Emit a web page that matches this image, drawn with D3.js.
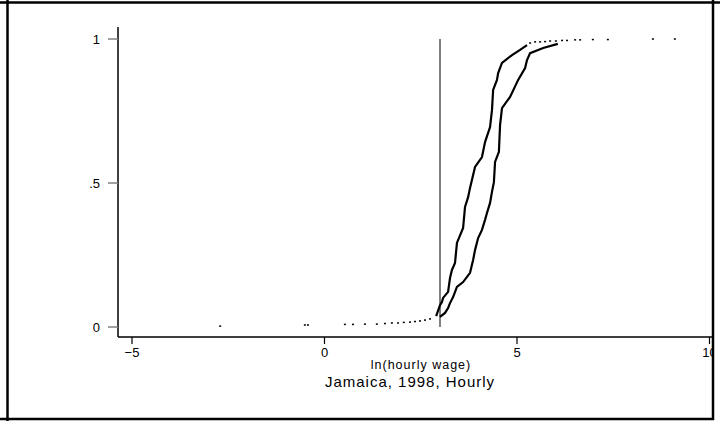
<!DOCTYPE html>
<html><head><meta charset="utf-8">
<script src="https://cdn.jsdelivr.net/npm/d3@7"></script>
<style>html,body{margin:0;padding:0;background:#fff}</style>
</head><body>
<svg id="c" width="720" height="421"></svg>
<script>
// ---- data ----
const xTicks = [-5, 0, 5, 10];
const yTicks = [0, 0.5, 1];
const yTickLabels = ["0", ".5", "1"];
const xTitle = "ln(hourly wage)";
const chartTitle = "Jamaica, 1998, Hourly";
const cutoff = 3;

// left (steeper) ECDF: ln wage, cumulative share
const seriesAx = [2.90,3.00,3.05,3.08,3.21,3.26,3.31,3.39,3.44,3.60,3.65,3.73,3.78,3.91,4.09,4.17,4.30,4.35,4.38,4.48,4.51,4.61,4.87,5.08,5.26];
const seriesAy = [0.038,0.076,0.087,0.101,0.122,0.170,0.198,0.222,0.292,0.344,0.417,0.451,0.483,0.556,0.590,0.642,0.694,0.753,0.823,0.858,0.882,0.917,0.944,0.962,0.979];
// right ECDF
const seriesBx = [3.00,3.13,3.21,3.26,3.34,3.44,3.60,3.78,3.86,3.91,3.99,4.09,4.17,4.22,4.30,4.35,4.40,4.43,4.53,4.56,4.61,4.82,5.03,5.21,5.26,5.34,5.68,6.06];
const seriesBy = [0.035,0.049,0.066,0.083,0.104,0.139,0.156,0.188,0.233,0.267,0.309,0.337,0.372,0.396,0.431,0.469,0.503,0.573,0.608,0.701,0.760,0.799,0.858,0.899,0.927,0.951,0.969,0.983];
// sparse tail observations
const lowTailx = [-2.71,-0.51,-0.43,0.53,0.74,1.05,1.36,1.57,1.75,1.91,2.06,2.22,2.35,2.48,2.61,2.74];
const lowTaily = [0.003,0.007,0.007,0.009,0.009,0.010,0.010,0.012,0.014,0.014,0.016,0.017,0.019,0.021,0.024,0.028];
const highTailx = [5.34,5.47,5.60,5.73,5.86,6.01,6.17,6.30,6.51,6.64,6.97,7.36,8.53,9.10];
const highTaily = [0.986,0.990,0.990,0.991,0.993,0.993,0.995,0.995,0.997,0.997,0.998,0.998,1.0,1.0];

// ---- drawing ----
const svg = d3.select("#c");
const font = "'Liberation Sans', Arial, sans-serif";
const x = d3.scaleLinear().domain([-5, 10]).range([132, 709.5]);
const y = d3.scaleLinear().domain([0, 1]).range([327, 39]);

svg.append("defs").append("clipPath").attr("id","clip")
  .append("rect").attr("x",0).attr("y",0).attr("width",712).attr("height",421);
const g = svg.append("g").attr("clip-path","url(#clip)");

// axes
const yAxisX = 118, xAxisY = 337;
g.append("line").attr("x1",yAxisX).attr("x2",yAxisX).attr("y1",27).attr("y2",xAxisY)
  .attr("stroke","#000").attr("stroke-width",1.5);
g.append("line").attr("x1",yAxisX).attr("x2",720).attr("y1",xAxisY).attr("y2",xAxisY)
  .attr("stroke","#000").attr("stroke-width",1.5);

yTicks.forEach((t,i)=>{
  g.append("line").attr("x1",108).attr("x2",yAxisX).attr("y1",y(t)).attr("y2",y(t))
    .attr("stroke","#808080").attr("stroke-width",1.5);
  g.append("text").attr("x",100).attr("y",y(t)+4.5).attr("text-anchor","end")
    .attr("font-family",font).attr("font-size",13).text(yTickLabels[i]);
});
xTicks.forEach(t=>{
  g.append("line").attr("x1",x(t)).attr("x2",x(t)).attr("y1",xAxisY).attr("y2",344)
    .attr("stroke","#000").attr("stroke-width",1.2);
  g.append("text").attr("x",x(t)).attr("y",357).attr("text-anchor","middle")
    .attr("font-family",font).attr("font-size",13).text(d3.format("d")(t));
});

// cutoff line
g.append("line").attr("x1",x(cutoff)).attr("x2",x(cutoff)).attr("y1",y(1)).attr("y2",y(0))
  .attr("stroke","#000").attr("stroke-width",1);

// ECDF curves (jagged)
const line = d3.line().x(d=>x(d[0])).y(d=>y(d[1])).curve(d3.curveLinear);
const A = seriesAx.map((v,i)=>[v, seriesAy[i]]);
const B = seriesBx.map((v,i)=>[v, seriesBy[i]]);
[A,B].forEach(s=>{
  g.append("path").attr("d",line(s)).attr("fill","none").attr("stroke","#000")
    .attr("stroke-width",2.2).attr("stroke-linejoin","miter");
});

// tails as dots
const tails = lowTailx.map((v,i)=>[v,lowTaily[i]]).concat(highTailx.map((v,i)=>[v,highTaily[i]]));
g.selectAll("rect.dot").data(tails).enter().append("rect").attr("class","dot")
  .attr("x",d=>x(d[0])-1).attr("y",d=>y(d[1])-0.75).attr("width",2).attr("height",1.5).attr("fill","#000");

// titles
svg.append("text").attr("x",421).attr("y",369).attr("text-anchor","middle")
  .attr("font-family",font).attr("font-size",12.5).attr("letter-spacing",1).text(xTitle);
svg.append("text").attr("x",410).attr("y",387).attr("text-anchor","middle")
  .attr("font-family",font).attr("font-size",15).attr("letter-spacing",1).text(chartTitle);

// outer frame
const fr = svg.append("g").attr("stroke","#000").attr("stroke-width",2.5);
fr.append("line").attr("x1",0).attr("x2",720).attr("y1",2.5).attr("y2",2.5);
fr.append("line").attr("x1",7.5).attr("x2",7.5).attr("y1",0).attr("y2",421);
fr.append("line").attr("x1",713).attr("x2",713).attr("y1",0).attr("y2",420);
fr.append("line").attr("x1",0).attr("x2",714).attr("y1",419).attr("y2",419);
</script>
</body></html>
